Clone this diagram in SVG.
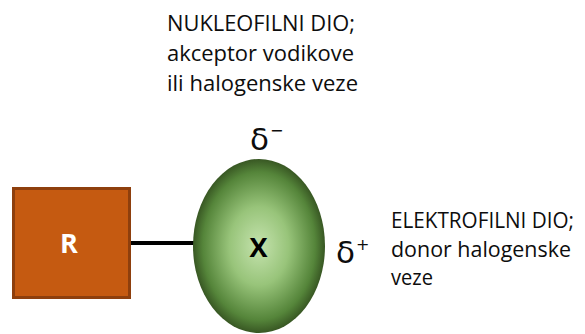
<svg xmlns="http://www.w3.org/2000/svg" width="585" height="334" viewBox="0 0 585 334">
<defs>
<radialGradient id="g" cx="0.5" cy="0.5" r="0.5">
<stop offset="0" stop-color="#c5e3ae"/>
<stop offset="0.45" stop-color="#98c47a"/>
<stop offset="0.85" stop-color="#55853a"/>
<stop offset="1" stop-color="#385723"/>
</radialGradient>
<style>
.t{font-family:"Open Sans","Noto Sans","Liberation Sans",sans-serif;font-size:22px;fill:#0d0d0d}
.d{font-family:"DejaVu Sans","Noto Sans",sans-serif;fill:#0d0d0d;font-size:31px}
.s{font-size:16px}
.b{font-family:"Open Sans","Liberation Sans",sans-serif;font-weight:bold;font-size:27px}
</style>
</defs>
<g id="connectors">
<line x1="130" y1="243" x2="196" y2="243" stroke="#000" stroke-width="4"/>
</g>
<g id="R">
<rect x="13.5" y="188.5" width="116" height="109" fill="#c55a11" stroke="#8e3f0d" stroke-width="3"/>
<text class="b" x="69" y="253" text-anchor="middle" fill="#fff">R</text>
</g>
<g id="X">
<ellipse cx="259" cy="246" rx="66" ry="87" fill="url(#g)"/>
<text class="b" x="258.5" y="257" text-anchor="middle" fill="#000">X</text>
</g>
<g id="nucleophilic">
<text class="t" x="167" y="31" textLength="188" lengthAdjust="spacingAndGlyphs">NUKLEOFILNI DIO;</text>
<text class="t" x="167" y="61" textLength="187" lengthAdjust="spacingAndGlyphs">akceptor vodikove</text>
<text class="t" x="167" y="91" textLength="191" lengthAdjust="spacingAndGlyphs">ili halogenske veze</text>
</g>
<g id="delta-minus">
<text class="d" x="250" y="150">δ<tspan class="s" dx="1" dy="-14">−</tspan></text>
</g>
<g id="delta-plus">
<text class="d" x="336" y="263">δ<tspan class="s" dx="1" dy="-13">+</tspan></text>
</g>
<g id="electrophilic">
<text class="t" x="391" y="228" textLength="183" lengthAdjust="spacingAndGlyphs">ELEKTROFILNI DIO;</text>
<text class="t" x="391" y="257" textLength="180" lengthAdjust="spacingAndGlyphs">donor halogenske</text>
<text class="t" x="391" y="285" textLength="42" lengthAdjust="spacingAndGlyphs">veze</text>
</g>
</svg>
